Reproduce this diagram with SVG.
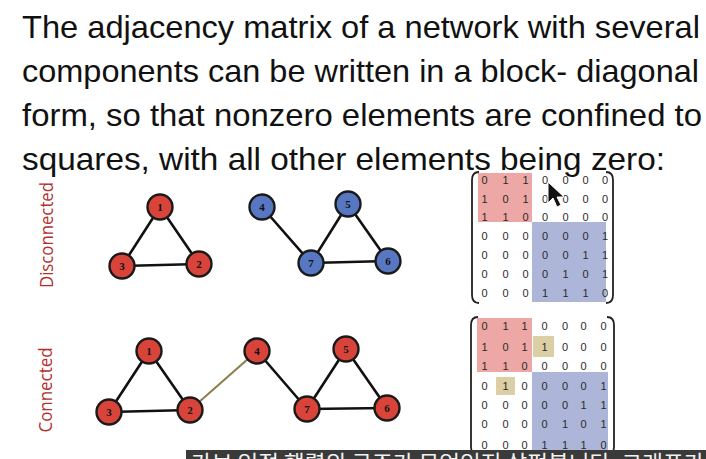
<svg xmlns="http://www.w3.org/2000/svg" width="706" height="459" viewBox="0 0 706 459">
  <defs>
    <style>
      .title { font-family: "Liberation Sans", Arial, sans-serif; font-size: 32px; fill: #111; }
      .side { font-family: "Open Sans", "Liberation Sans", sans-serif; font-size: 18px; fill: #b3302e; }
      .edge { stroke: #111; stroke-width: 2.6; stroke-linecap: round; fill: none; }
      .bridge { stroke: #8a7f4e; stroke-width: 2; fill: none; }
      .red { fill: #d9443a; stroke: #1a1a1a; stroke-width: 2.4; }
      .blue { fill: #5877c2; stroke: #1a1a1a; stroke-width: 2.4; }
      .lbl { font-family: "Liberation Serif", "Times New Roman", serif; font-weight: bold; font-size: 11px; fill: #111; text-anchor: middle; }
      .cell { font-family: "Liberation Sans", Arial, sans-serif; font-size: 11px; fill: #2a2a2a; text-anchor: middle; }
      .paren { stroke: #222; stroke-width: 1.8; fill: none; }
      .sub { font-family: "Noto Sans CJK KR", "Noto Sans", sans-serif; font-size: 21px; fill: #f2f2f2; }
    </style>
  </defs>
  <rect width="706" height="459" fill="#ffffff"/>

  <!-- heading -->
  <g id="heading">
    <text class="title" x="22" y="38" textLength="678" lengthAdjust="spacingAndGlyphs">The adjacency matrix of a network with several</text>
    <text class="title" x="22" y="82" textLength="677" lengthAdjust="spacingAndGlyphs">components can be written in a block- diagonal</text>
    <text class="title" x="22" y="126" textLength="680" lengthAdjust="spacingAndGlyphs">form, so that nonzero elements are confined to</text>
    <text class="title" x="22" y="170" textLength="643" lengthAdjust="spacingAndGlyphs">squares, with all other elements being zero:</text>
  </g>

  <!-- row captions -->
  <g id="caption-disconnected">
    <text class="side" transform="translate(53 235) rotate(-90)" text-anchor="middle" textLength="106" lengthAdjust="spacingAndGlyphs">Disconnected</text>
  </g>
  <g id="caption-connected">
    <text class="side" transform="translate(52 390) rotate(-90)" text-anchor="middle" textLength="85" lengthAdjust="spacingAndGlyphs">Connected</text>
  </g>

  <!-- connectors -->
  <g id="connectors">
    <!-- disconnected network -->
    <line class="edge" x1="160" y1="207" x2="122" y2="266"/>
    <line class="edge" x1="160" y1="207" x2="199" y2="264"/>
    <line class="edge" x1="122" y1="266" x2="199" y2="264"/>
    <line class="edge" x1="262" y1="207" x2="311" y2="263"/>
    <line class="edge" x1="348" y1="204" x2="311" y2="263"/>
    <line class="edge" x1="348" y1="204" x2="388" y2="261"/>
    <line class="edge" x1="311" y1="263" x2="388" y2="261"/>
    <!-- connected network -->
    <line class="edge" x1="149" y1="351" x2="109" y2="412"/>
    <line class="edge" x1="149" y1="351" x2="190" y2="410"/>
    <line class="edge" x1="109" y1="412" x2="190" y2="410"/>
    <line class="bridge" x1="190" y1="410" x2="257" y2="351"/>
    <line class="edge" x1="257" y1="351" x2="307" y2="409"/>
    <line class="edge" x1="346" y1="349" x2="307" y2="409"/>
    <line class="edge" x1="346" y1="349" x2="387" y2="408"/>
    <line class="edge" x1="307" y1="409" x2="387" y2="408"/>
  </g>

  <!-- disconnected network nodes -->
  <g id="d1"><circle class="red" cx="160" cy="207" r="12.5"/><text class="lbl" x="160" y="211">1</text></g>
  <g id="d2"><circle class="red" cx="199" cy="264" r="12.5"/><text class="lbl" x="199" y="268">2</text></g>
  <g id="d3"><circle class="red" cx="122" cy="266" r="12.5"/><text class="lbl" x="122" y="270">3</text></g>
  <g id="d4"><circle class="blue" cx="262" cy="207" r="12.5"/><text class="lbl" x="262" y="211">4</text></g>
  <g id="d5"><circle class="blue" cx="348" cy="204" r="12.5"/><text class="lbl" x="348" y="208">5</text></g>
  <g id="d6"><circle class="blue" cx="388" cy="261" r="12.5"/><text class="lbl" x="388" y="265">6</text></g>
  <g id="d7"><circle class="blue" cx="311" cy="263" r="12.5"/><text class="lbl" x="311" y="267">7</text></g>

  <!-- connected network nodes -->
  <g id="c1"><circle class="red" cx="149" cy="351" r="12.5"/><text class="lbl" x="149" y="355">1</text></g>
  <g id="c2"><circle class="red" cx="190" cy="410" r="12.5"/><text class="lbl" x="190" y="414">2</text></g>
  <g id="c3"><circle class="red" cx="109" cy="412" r="12.5"/><text class="lbl" x="109" y="416">3</text></g>
  <g id="c4"><circle class="red" cx="257" cy="351" r="12.5"/><text class="lbl" x="257" y="355">4</text></g>
  <g id="c5"><circle class="red" cx="346" cy="349" r="12.5"/><text class="lbl" x="346" y="353">5</text></g>
  <g id="c6"><circle class="red" cx="387" cy="408" r="12.5"/><text class="lbl" x="387" y="412">6</text></g>
  <g id="c7"><circle class="red" cx="307" cy="409" r="12.5"/><text class="lbl" x="307" y="413">7</text></g>

  <!-- adjacency matrix, disconnected -->
  <g id="matrix-disconnected">
    <rect x="478" y="173" width="54" height="49" fill="#eda7a4"/>
    <rect x="532" y="222" width="74" height="80" fill="#adb6d8"/>
    <path class="paren" d="M479 172 Q472 172 472 180 L472 295 Q472 303 479 303"/>
    <path class="paren" d="M606 172 Q613 172 613 180 L613 295 Q613 303 606 303"/>
    <g transform="translate(0 4)">
      <text class="cell" x="484.5" y="180">0</text><text class="cell" x="505.5" y="180">1</text><text class="cell" x="525.5" y="180">1</text><text class="cell" x="545" y="180">0</text><text class="cell" x="565.5" y="180">0</text><text class="cell" x="585.5" y="180">0</text><text class="cell" x="605" y="180">0</text>
      <text class="cell" x="484.5" y="198.5">1</text><text class="cell" x="505.5" y="198.5">0</text><text class="cell" x="525.5" y="198.5">1</text><text class="cell" x="545" y="198.5">0</text><text class="cell" x="565.5" y="198.5">0</text><text class="cell" x="585.5" y="198.5">0</text><text class="cell" x="605" y="198.5">0</text>
      <text class="cell" x="484.5" y="217">1</text><text class="cell" x="505.5" y="217">1</text><text class="cell" x="525.5" y="217">0</text><text class="cell" x="545" y="217">0</text><text class="cell" x="565.5" y="217">0</text><text class="cell" x="585.5" y="217">0</text><text class="cell" x="605" y="217">0</text>
      <text class="cell" x="484.5" y="236">0</text><text class="cell" x="505.5" y="236">0</text><text class="cell" x="525.5" y="236">0</text><text class="cell" x="545" y="236">0</text><text class="cell" x="565.5" y="236">0</text><text class="cell" x="585.5" y="236">0</text><text class="cell" x="605" y="236">1</text>
      <text class="cell" x="484.5" y="255">0</text><text class="cell" x="505.5" y="255">0</text><text class="cell" x="525.5" y="255">0</text><text class="cell" x="545" y="255">0</text><text class="cell" x="565.5" y="255">0</text><text class="cell" x="585.5" y="255">1</text><text class="cell" x="605" y="255">1</text>
      <text class="cell" x="484.5" y="274">0</text><text class="cell" x="505.5" y="274">0</text><text class="cell" x="525.5" y="274">0</text><text class="cell" x="545" y="274">0</text><text class="cell" x="565.5" y="274">1</text><text class="cell" x="585.5" y="274">0</text><text class="cell" x="605" y="274">1</text>
      <text class="cell" x="484.5" y="293">0</text><text class="cell" x="505.5" y="293">0</text><text class="cell" x="525.5" y="293">0</text><text class="cell" x="545" y="293">1</text><text class="cell" x="565.5" y="293">1</text><text class="cell" x="585.5" y="293">1</text><text class="cell" x="605" y="293">0</text>
    </g>
  </g>

  <!-- adjacency matrix, connected -->
  <g id="matrix-connected">
    <rect x="477" y="318" width="55" height="54" fill="#eda7a4"/>
    <rect x="532" y="372" width="76" height="87" fill="#adb6d8"/>
    <rect x="533" y="336" width="21" height="21" fill="#dccfa6"/>
    <rect x="496" y="377" width="19" height="18" fill="#dccfa6"/>
    <path class="paren" d="M478 317 Q471 317 471 325 L471 447 Q471 455 478 455"/>
    <path class="paren" d="M607 317 Q614 317 614 325 L614 447 Q614 455 607 455"/>
    <g transform="translate(0 4)">
      <text class="cell" x="484.5" y="325.7">0</text><text class="cell" x="505.5" y="325.7">1</text><text class="cell" x="524.5" y="325.7">1</text><text class="cell" x="544.5" y="325.7">0</text><text class="cell" x="565" y="325.7">0</text><text class="cell" x="583.5" y="325.7">0</text><text class="cell" x="603.5" y="325.7">0</text>
      <text class="cell" x="484.5" y="346.7">1</text><text class="cell" x="505.5" y="346.7">0</text><text class="cell" x="524.5" y="346.7">1</text><text class="cell" x="544.5" y="346.7">1</text><text class="cell" x="565" y="346.7">0</text><text class="cell" x="583.5" y="346.7">0</text><text class="cell" x="603.5" y="346.7">0</text>
      <text class="cell" x="484.5" y="365.7">1</text><text class="cell" x="505.5" y="365.7">1</text><text class="cell" x="524.5" y="365.7">0</text><text class="cell" x="544.5" y="365.7">0</text><text class="cell" x="565" y="365.7">0</text><text class="cell" x="583.5" y="365.7">0</text><text class="cell" x="603.5" y="365.7">0</text>
      <text class="cell" x="484.5" y="385.7">0</text><text class="cell" x="505.5" y="385.7">1</text><text class="cell" x="524.5" y="385.7">0</text><text class="cell" x="544.5" y="385.7">0</text><text class="cell" x="565" y="385.7">0</text><text class="cell" x="583.5" y="385.7">0</text><text class="cell" x="603.5" y="385.7">1</text>
      <text class="cell" x="484.5" y="405">0</text><text class="cell" x="505.5" y="405">0</text><text class="cell" x="524.5" y="405">0</text><text class="cell" x="544.5" y="405">0</text><text class="cell" x="565" y="405">0</text><text class="cell" x="583.5" y="405">1</text><text class="cell" x="603.5" y="405">1</text>
      <text class="cell" x="484.5" y="424.3">0</text><text class="cell" x="505.5" y="424.3">0</text><text class="cell" x="524.5" y="424.3">0</text><text class="cell" x="544.5" y="424.3">0</text><text class="cell" x="565" y="424.3">1</text><text class="cell" x="583.5" y="424.3">0</text><text class="cell" x="603.5" y="424.3">1</text>
      <text class="cell" x="484.5" y="445">0</text><text class="cell" x="505.5" y="445">0</text><text class="cell" x="524.5" y="445">0</text><text class="cell" x="544.5" y="445">1</text><text class="cell" x="565" y="445">1</text><text class="cell" x="583.5" y="445">1</text><text class="cell" x="603.5" y="445">0</text>
    </g>
  </g>

  <!-- mouse pointer -->
  <g id="pointer">
    <path d="M548 182 L548 203 L553 198 L557 207 L561 205 L557 197 L564 197 Z" fill="#111" stroke="#fff" stroke-width="1"/>
  </g>

  <!-- subtitle strip, clipped by the frame bottom -->
  <g id="subtitle">
    <rect x="186" y="450" width="520" height="9" fill="#3a3a3a"/>
    <text class="sub" x="191" y="470" textLength="560" lengthAdjust="spacingAndGlyphs">가브 인접 행렬의 구조가 무엇인지 살펴봅니다. 그래프가 있다</text>
  </g>
</svg>
